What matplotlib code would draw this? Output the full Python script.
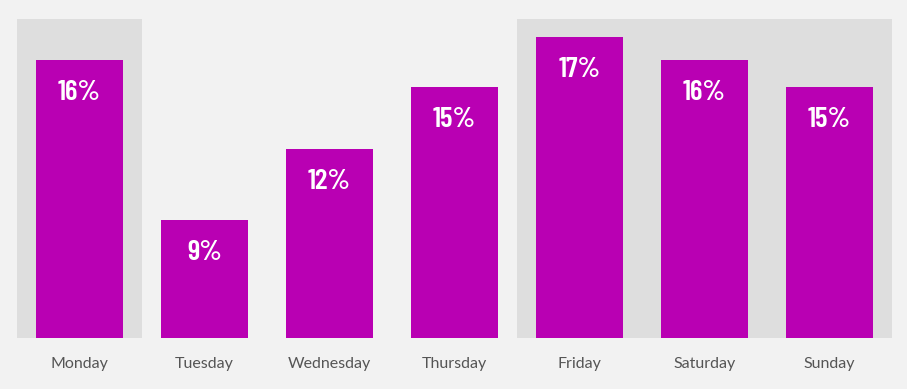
import numpy as np
import matplotlib.pyplot as plt

# DATA #
days = ['Monday', 'Tuesday', 'Wednesday', 'Thursday', 'Friday', 'Saturday', 'Sunday']
share = [16.05, 8.98, 12.12, 14.86, 17.07, 16.05, 14.86]
shaded = [0, 4, 5, 6]  # Monday and the weekend block

# STYLE #
bg_col = '#f2f2f2'
shade_col = '#dedede'
bar_col = '#b900b3'
text_col = '#555555'

fig = plt.figure(figsize=(9.07, 3.89), dpi=100, facecolor=bg_col)
ax = fig.add_axes([17/907, 51/389, 875/907, 319/389])
ax.set_facecolor(bg_col)

x = np.arange(len(days))

# background bands behind the highlighted days
for i in shaded:
    ax.axvspan(i - 0.5, i + 0.5, color=shade_col, lw=0, zorder=0)

bars = ax.bar(x, share, width=0.7, color=bar_col, zorder=2)

for xi, v in zip(x, share):
    ax.annotate('%d%%' % round(v), xy=(xi, v), xytext=(0, -23.5), textcoords='offset points',
                ha='center', va='center', color='white', fontsize=21,
                fontweight=600, family=['Barlow Condensed', 'DejaVu Sans'],
                zorder=3)

ax.set_xlim(-0.5, len(days) - 0.5)
ax.set_ylim(3.76, 17.86)
ax.set_xticks(x)
ax.set_xticklabels(days, fontsize=11.5, color=text_col, family='Lato')
ax.tick_params(axis='x', length=0, pad=14)
ax.set_yticks([])
for s in ax.spines.values():
    s.set_visible(False)

fig.savefig('out.png', dpi=100, facecolor=bg_col)
